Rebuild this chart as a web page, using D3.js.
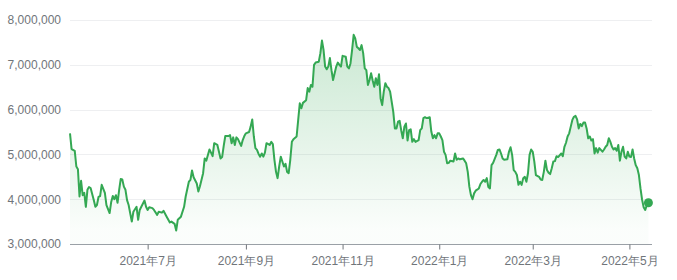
<!DOCTYPE html>
<html>
<head>
<meta charset="utf-8">
<script src="https://cdn.jsdelivr.net/npm/d3@7"></script>
<style>
  html, body { margin: 0; padding: 0; background: #fff; }
  svg { display: block; font-family: Roboto, Arial, "Noto Sans CJK JP", sans-serif; }
  .axis text { font-size: 12px; fill: #70757a; }
</style>
</head>
<body>
<svg id="chart" width="677" height="280"></svg>
<script>
  // daily closing values
  var dates = [
    '2021-05-13','2021-05-14','2021-05-16','2021-05-17','2021-05-18','2021-05-19','2021-05-20','2021-05-21','2021-05-22','2021-05-23',
    '2021-05-24','2021-05-25','2021-05-26','2021-05-28','2021-05-29','2021-05-30','2021-05-31','2021-06-01','2021-06-02','2021-06-04',
    '2021-06-05','2021-06-07','2021-06-08','2021-06-09','2021-06-10','2021-06-11','2021-06-12','2021-06-13','2021-06-14','2021-06-15',
    '2021-06-16','2021-06-17','2021-06-18','2021-06-19','2021-06-21','2021-06-22','2021-06-24','2021-06-25','2021-06-26','2021-06-27',
    '2021-06-29','2021-06-30','2021-07-01','2021-07-02','2021-07-04','2021-07-05','2021-07-07','2021-07-08','2021-07-10','2021-07-11',
    '2021-07-13','2021-07-15','2021-07-16','2021-07-18','2021-07-19','2021-07-20','2021-07-22','2021-07-24','2021-07-25','2021-07-27',
    '2021-07-28','2021-07-29','2021-07-30','2021-08-01','2021-08-02','2021-08-03','2021-08-05','2021-08-06','2021-08-07','2021-08-09',
    '2021-08-10','2021-08-11','2021-08-12','2021-08-14','2021-08-15','2021-08-16','2021-08-17','2021-08-18','2021-08-19','2021-08-21',
    '2021-08-22','2021-08-23','2021-08-24','2021-08-25','2021-08-26','2021-08-27','2021-08-29','2021-08-30','2021-08-31','2021-09-01',
    '2021-09-03','2021-09-04','2021-09-05','2021-09-06','2021-09-07','2021-09-08','2021-09-09','2021-09-10','2021-09-11','2021-09-12',
    '2021-09-13','2021-09-14','2021-09-16','2021-09-17','2021-09-18','2021-09-19','2021-09-20','2021-09-21','2021-09-22','2021-09-23',
    '2021-09-24','2021-09-25','2021-09-26','2021-09-27','2021-09-28','2021-09-29','2021-09-30','2021-10-01','2021-10-03','2021-10-04',
    '2021-10-05','2021-10-06','2021-10-07','2021-10-09','2021-10-10','2021-10-11','2021-10-12','2021-10-13','2021-10-14','2021-10-15',
    '2021-10-17','2021-10-18','2021-10-19','2021-10-20','2021-10-21','2021-10-22','2021-10-23','2021-10-24','2021-10-25','2021-10-26',
    '2021-10-28','2021-10-29','2021-10-30','2021-10-31','2021-11-01','2021-11-03','2021-11-04','2021-11-05','2021-11-06','2021-11-07',
    '2021-11-08','2021-11-09','2021-11-10','2021-11-11','2021-11-12','2021-11-13','2021-11-14','2021-11-15','2021-11-16','2021-11-17',
    '2021-11-18','2021-11-19','2021-11-20','2021-11-21','2021-11-22','2021-11-23','2021-11-24','2021-11-25','2021-11-26','2021-11-27',
    '2021-11-28','2021-11-29','2021-11-30','2021-12-01','2021-12-03','2021-12-04','2021-12-05','2021-12-06','2021-12-07','2021-12-08',
    '2021-12-09','2021-12-10','2021-12-11','2021-12-12','2021-12-13','2021-12-14','2021-12-15','2021-12-16','2021-12-17','2021-12-19',
    '2021-12-20','2021-12-21','2021-12-22','2021-12-23','2021-12-24','2021-12-26','2021-12-27','2021-12-28','2021-12-29','2021-12-30',
    '2021-12-31','2022-01-01','2022-01-02','2022-01-03','2022-01-04','2022-01-05','2022-01-06','2022-01-07','2022-01-08','2022-01-10',
    '2022-01-11','2022-01-12','2022-01-13','2022-01-14','2022-01-16','2022-01-17','2022-01-18','2022-01-19','2022-01-20','2022-01-21',
    '2022-01-22','2022-01-23','2022-01-24','2022-01-26','2022-01-27','2022-01-28','2022-01-29','2022-01-30','2022-01-31','2022-02-01',
    '2022-02-02','2022-02-03','2022-02-04','2022-02-06','2022-02-07','2022-02-08','2022-02-09','2022-02-10','2022-02-11','2022-02-13',
    '2022-02-14','2022-02-15','2022-02-16','2022-02-17','2022-02-18','2022-02-19','2022-02-20','2022-02-21','2022-02-22','2022-02-23',
    '2022-02-24','2022-02-25','2022-02-26','2022-02-27','2022-02-28','2022-03-01','2022-03-02','2022-03-03','2022-03-05','2022-03-06',
    '2022-03-07','2022-03-08','2022-03-09','2022-03-10','2022-03-11','2022-03-12','2022-03-13','2022-03-14','2022-03-15','2022-03-16',
    '2022-03-17','2022-03-19','2022-03-20','2022-03-21','2022-03-22','2022-03-23','2022-03-24','2022-03-25','2022-03-26','2022-03-27',
    '2022-03-28','2022-03-29','2022-03-30','2022-03-31','2022-04-01','2022-04-02','2022-04-03','2022-04-04','2022-04-05','2022-04-06',
    '2022-04-07','2022-04-08','2022-04-09','2022-04-10','2022-04-11','2022-04-12','2022-04-14','2022-04-15','2022-04-16','2022-04-17',
    '2022-04-18','2022-04-19','2022-04-20','2022-04-21','2022-04-22','2022-04-23','2022-04-24','2022-04-25','2022-04-26','2022-04-27',
    '2022-04-28','2022-04-29','2022-04-30','2022-05-01','2022-05-02','2022-05-03','2022-05-04','2022-05-05','2022-05-06','2022-05-07',
    '2022-05-08','2022-05-09','2022-05-10','2022-05-11','2022-05-12','2022-05-13'
  ];

  var values = [
    5470000,5120000,5080000,4730000,4670000,4060000,4410000,4090000,4140000,3830000,
    4210000,4270000,4250000,3980000,3830000,3870000,4050000,4070000,4320000,4140000,
    3870000,3690000,3940000,4070000,4000000,4090000,3920000,4200000,4450000,4440000,
    4280000,4210000,3980000,3870000,3500000,3720000,3830000,3540000,3760000,3830000,
    3970000,3830000,3760000,3820000,3800000,3760000,3650000,3720000,3700000,3740000,
    3610000,3480000,3500000,3450000,3300000,3540000,3610000,3830000,4060000,4390000,
    4430000,4640000,4490000,4350000,4170000,4290000,4580000,4910000,4860000,5110000,
    5040000,4960000,5250000,5210000,5060000,4910000,4940000,5190000,5410000,5410000,
    5430000,5250000,5380000,5210000,5380000,5340000,5190000,5320000,5410000,5470000,
    5500000,5620000,5780000,5400000,5140000,5100000,5010000,4950000,5020000,4950000,
    5040000,5250000,5210000,5280000,5230000,4880000,4610000,4470000,4730000,4950000,
    4840000,4730000,4790000,4610000,4580000,4880000,5280000,5340000,5400000,5770000,
    6140000,6030000,6150000,6210000,6480000,6400000,6550000,6510000,7000000,7050000,
    7070000,7260000,7540000,7330000,6960000,6900000,6960000,7150000,6880000,6660000,
    6960000,7050000,7000000,6960000,7200000,7180000,6960000,6920000,7030000,7330000,
    7670000,7590000,7400000,7370000,7330000,7440000,7260000,6920000,6880000,6550000,
    6660000,6810000,6650000,6510000,6700000,6550000,6790000,6250000,6100000,6400000,
    6590000,6510000,6480000,6400000,5950000,5580000,5580000,5730000,5750000,5540000,
    5360000,5620000,5690000,5310000,5540000,5560000,5280000,5340000,5280000,5320000,
    5540000,5580000,5810000,5830000,5810000,5830000,5510000,5360000,5430000,5360000,
    5470000,5470000,5400000,5320000,5060000,4990000,4800000,4810000,4860000,4840000,
    5020000,4880000,4910000,4890000,4910000,4860000,4800000,4610000,4280000,4090000,
    4000000,4130000,4190000,4240000,4340000,4390000,4430000,4390000,4470000,4270000,
    4240000,4760000,4810000,4990000,5100000,5110000,5020000,4910000,4880000,4890000,
    5060000,5160000,4990000,4650000,4610000,4540000,4320000,4390000,4320000,4470000,
    4500000,4390000,4580000,4990000,5110000,5060000,4840000,4540000,4500000,4440000,
    4430000,4610000,4860000,4650000,4590000,4560000,4690000,4840000,4850000,4960000,
    4940000,5020000,4960000,5170000,5260000,5400000,5470000,5620000,5770000,5840000,
    5860000,5780000,5580000,5680000,5630000,5710000,5710000,5580000,5360000,5400000,
    5310000,5340000,5020000,5140000,5040000,5140000,5060000,5110000,5170000,5210000,
    5360000,5280000,5170000,5110000,5140000,5080000,5210000,4860000,5060000,5170000,
    4950000,4910000,5060000,4950000,4940000,5110000,4910000,4760000,4690000,4540000,
    4240000,3990000,3820000,3760000,3870000,3920000
  ];

  var yTicks = [3000000, 4000000, 5000000, 6000000, 7000000, 8000000];
  var xTicks = ['2021-07-01', '2021-09-01', '2021-11-01', '2022-01-01', '2022-03-01', '2022-05-01'];
  var domainDates = ['2021-05-13', '2022-05-14'];

  (function() {
    var parse = d3.timeParse('%Y-%m-%d');
    var data = dates.map(function(d, i) { return { date: parse(d), value: values[i] }; });

    var plotLeft = 70, plotRight = 650, gridRight = 652, plotTop = 20, plotBottom = 244;
    var green = '#34a853';

    var svg = d3.select('#chart');

    var x = d3.scaleTime()
      .domain(domainDates.map(parse))
      .range([plotLeft, plotRight]);

    var y = d3.scaleLinear()
      .domain([yTicks[0], yTicks[yTicks.length - 1]])
      .range([plotBottom, plotTop]);

    // gridlines
    svg.append('g')
      .selectAll('line')
      .data(yTicks.slice(1))
      .enter().append('line')
      .attr('x1', plotLeft)
      .attr('x2', gridRight)
      .attr('y1', function(d) { return Math.round(y(d)) + 0.5; })
      .attr('y2', function(d) { return Math.round(y(d)) + 0.5; })
      .attr('stroke', '#eeeff1')
      .attr('stroke-width', 1);

    // y labels
    var yAxis = d3.axisLeft(y)
      .tickValues(yTicks)
      .tickSize(0)
      .tickPadding(9)
      .tickFormat(d3.format(','));

    svg.append('g')
      .attr('class', 'axis')
      .attr('transform', 'translate(' + plotLeft + ',0)')
      .call(yAxis)
      .call(function(g) { g.select('.domain').remove(); });

    // area fill gradient
    var grad = svg.append('defs').append('linearGradient')
      .attr('id', 'fillGrad')
      .attr('gradientUnits', 'userSpaceOnUse')
      .attr('x1', 0).attr('x2', 0)
      .attr('y1', y(d3.max(values)))
      .attr('y2', y(d3.min(values)));

    grad.append('stop').attr('offset', 0).attr('stop-color', green).attr('stop-opacity', 0.26);
    grad.append('stop').attr('offset', 1).attr('stop-color', green).attr('stop-opacity', 0.02);

    var area = d3.area()
      .x(function(d) { return x(d.date); })
      .y0(plotBottom)
      .y1(function(d) { return y(d.value); });

    svg.append('path')
      .datum(data)
      .attr('d', area)
      .attr('fill', 'url(#fillGrad)');

    // x axis
    var xAxis = d3.axisBottom(x)
      .tickValues(xTicks.map(parse))
      .tickSize(5)
      .tickSizeOuter(0)
      .tickPadding(7)
      .tickFormat(function(d) { return d.getFullYear() + '年' + (d.getMonth() + 1) + '月'; });

    var gx = svg.append('g')
      .attr('class', 'axis')
      .attr('transform', 'translate(0,' + (plotBottom + 0.5) + ')')
      .call(xAxis);

    gx.select('.domain').attr('stroke', '#9aa0a6').attr('d', 'M' + plotLeft + ',0H' + gridRight);
    gx.selectAll('.tick line').attr('stroke', '#70757a');

    // price line
    var line = d3.line()
      .x(function(d) { return x(d.date); })
      .y(function(d) { return y(d.value); });

    svg.append('path')
      .datum(data)
      .attr('d', line)
      .attr('fill', 'none')
      .attr('stroke', green)
      .attr('stroke-width', 2)
      .attr('stroke-linejoin', 'round');

    // end marker
    var last = data[data.length - 1];
    svg.append('circle')
      .attr('cx', x(last.date))
      .attr('cy', y(last.value))
      .attr('r', 4.5)
      .attr('fill', green);
  })();
</script>
</body>
</html>
